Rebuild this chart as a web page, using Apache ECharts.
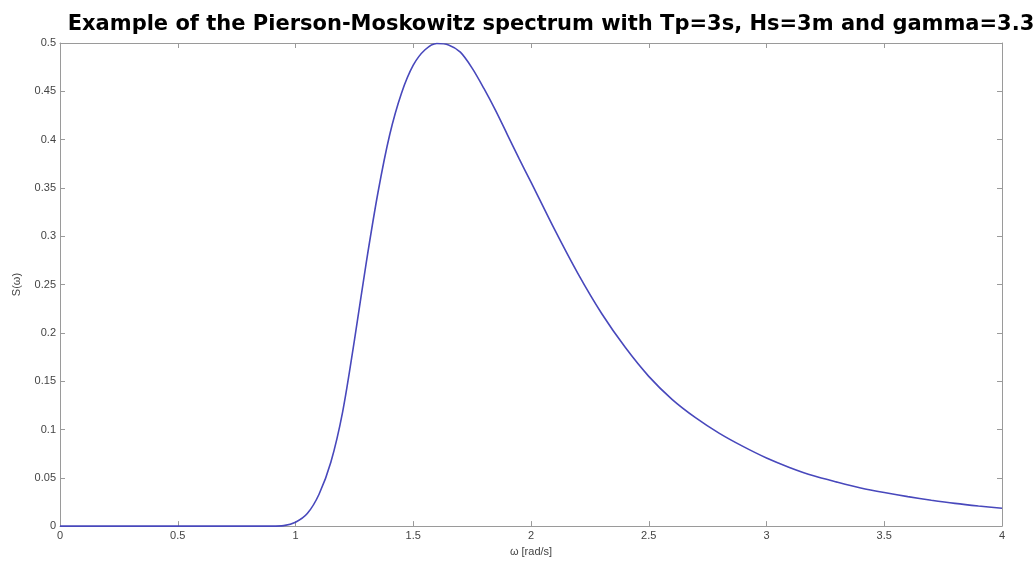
<!DOCTYPE html>
<html>
<head>
<meta charset="utf-8">
<script src="https://cdn.jsdelivr.net/npm/echarts@6/dist/echarts.min.js"></script>
<style>
  html, body { margin: 0; padding: 0; background: #fff; }
  #chart { width: 1036px; height: 562px; }
</style>
</head>
<body>
<div id="chart"></div>
<script>
// values
const omega = [0, 0.5, 0.9, 0.95, 1.0, 1.05, 1.1, 1.15, 1.2, 1.25, 1.3, 1.35, 1.4, 1.45, 1.5,
  1.55, 1.6, 1.65, 1.7, 1.75, 1.8, 1.85, 1.9, 1.95, 2.0,
  2.1, 2.2, 2.3, 2.4, 2.5, 2.6, 2.7, 2.8, 2.9, 3.0,
  3.1, 3.2, 3.3, 3.4, 3.5, 3.6, 3.7, 3.8, 3.9, 4.0];
const spectrum = [0, 0, 0, 0.0005, 0.004, 0.013, 0.033, 0.066, 0.118, 0.192, 0.272, 0.345, 0.405, 0.448, 0.477,
  0.493, 0.4995, 0.498, 0.4905, 0.474, 0.453, 0.43, 0.405, 0.380, 0.356,
  0.307, 0.261, 0.220, 0.185, 0.155, 0.131, 0.112, 0.096, 0.0825, 0.0705,
  0.0605, 0.052, 0.0455, 0.0395, 0.0347, 0.0305, 0.0268, 0.0235, 0.0208, 0.0185];

const chart = echarts.init(document.getElementById("chart"));

const boxColor = "#9a9a9a";
const labelFont = { color: "#444", fontSize: 11, fontFamily: "Liberation Sans" };

// a frame axis: ticks pointing inward, no labels
function frameAxis(extra) {
  return Object.assign({
    type: "value",
    axisLine: { show: true, onZero: false, lineStyle: { color: boxColor, width: 1 } },
    axisTick: { show: true, inside: true, length: 5, lineStyle: { color: boxColor } },
    axisLabel: { show: false },
    splitLine: { show: false }
  }, extra);
}

const options = {
  animation: false,
  backgroundColor: "#fff",
  title: {
    text: "Example of the Pierson-Moskowitz spectrum with Tp=3s, Hs=3m and gamma=3.3",
    left: 546,
    top: 9,
    textAlign: "center",
    textStyle: { fontFamily: "DejaVu Sans", fontWeight: "bold", fontSize: 21, color: "#000" }
  },
  grid: { left: 60, right: 34, top: 43, bottom: 34 },
  xAxis: [
    frameAxis({
      position: "bottom", min: 0, max: 4, interval: 0.5,
      name: "ω [rad/s]", nameLocation: "middle", nameGap: 19,
      nameTextStyle: labelFont,
      axisLabel: Object.assign({ show: true, margin: 4 }, labelFont)
    }),
    frameAxis({ position: "top", min: 0, max: 4, interval: 0.5 })
  ],
  yAxis: [
    frameAxis({
      position: "left", min: 0, max: 0.5, interval: 0.05,
      name: "S(ω)", nameLocation: "middle", nameGap: 38,
      nameTextStyle: labelFont,
      axisLabel: Object.assign({ show: true, margin: 4 }, labelFont)
    }),
    frameAxis({ position: "right", min: 0, max: 0.5, interval: 0.05 })
  ],
  series: [
    {
      type: "line",
      xAxisIndex: 0,
      yAxisIndex: 0,
      data: omega.map((w, i) => [w, spectrum[i]]),
      smooth: 0.3,
      showSymbol: false,
      lineStyle: { color: "#4848bc", width: 1.6 }
    }
  ]
};

chart.setOption(options);
</script>
</body>
</html>
